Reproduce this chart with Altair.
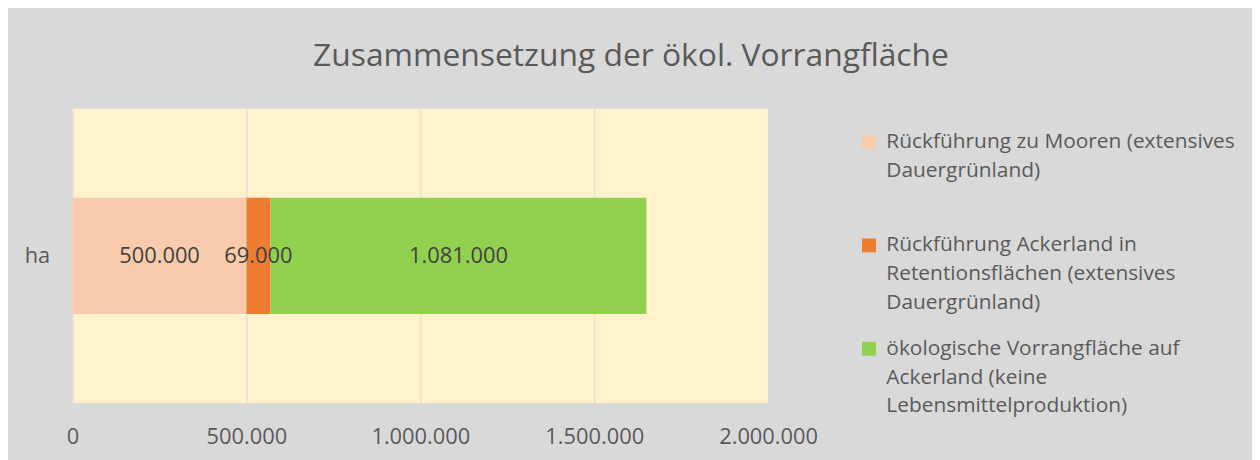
import altair as alt
import pandas as pd

unit = ["ha", "ha", "ha"]
series = [
    "Rückführung zu Mooren (extensives Dauergrünland)",
    "Rückführung Ackerland in Retentionsflächen (extensives Dauergrünland)",
    "ökologische Vorrangfläche auf Ackerland (keine Lebensmittelproduktion)",
]
legend_lines = [
    ["Rückführung zu Mooren (extensives", "Dauergrünland)", ""],
    ["Rückführung Ackerland in", "Retentionsflächen (extensives", "Dauergrünland)"],
    ["ökologische Vorrangfläche auf", "Ackerland (keine", "Lebensmittelproduktion)"],
]
values = [500000, 69000, 1081000]
order = [0, 1, 2]
colors = ["#f8cbad", "#ed7d31", "#92d050"]
x_ticks = [0, 500000, 1000000, 1500000, 2000000]

df = pd.DataFrame({"unit": unit, "series": series, "value": values, "order": order})

FONT = "Open Sans"
TXT = "#595959"
fmt = "replace(format(datum.value, ',d'), regexp(',', 'g'), '.')"


def arr(lines):
    return "[" + ",".join("'" + l + "'" for l in lines) + "]"


label_expr = ""
for s, lines in zip(series[:-1], legend_lines[:-1]):
    label_expr += f"datum.label == '{s}' ? {arr(lines)} : "
label_expr += arr(legend_lines[-1])

x_scale = alt.Scale(domain=[0, 2000000], nice=False, zero=True)

base = alt.Chart(df)

bars = base.mark_bar(size=117).encode(
    x=alt.X(
        "value:Q",
        stack="zero",
        scale=x_scale,
        axis=alt.Axis(
            values=x_ticks,
            labelExpr=fmt,
            title=None,
            domain=False,
            ticks=False,
            grid=True,
            gridColor="#d9d9d9",
            gridWidth=1,
            labelFont=FONT,
            labelFontSize=22,
            labelColor=TXT,
            labelPadding=24,
            labelFlush=False,
        ),
    ),
    y=alt.Y(
        "unit:N",
        axis=alt.Axis(
            title=None,
            domain=False,
            ticks=False,
            labelFont=FONT,
            labelFontSize=22,
            labelColor=TXT,
            labelPadding=23,
        ),
    ),
    color=alt.Color(
        "series:N",
        scale=alt.Scale(domain=series, range=colors),
        legend=alt.Legend(
            title=None,
            orient="none",
            legendX=791,
            legendY=23,
            symbolType="square",
            symbolSize=196,
            symbolStrokeWidth=0,
            labelFont=FONT,
            labelFontSize=21,
            labelColor=TXT,
            labelLimit=600,
            labelOffset=7,
            labelExpr=label_expr,
            rowPadding=24,
            padding=0,
        ),
    ),
    order=alt.Order("order:Q"),
)

texts = (
    base.transform_window(
        cum="sum(value)", sort=[alt.SortField("order")], frame=[None, 0]
    )
    .transform_calculate(
        mid="datum.cum - datum.value / 2",
        label=fmt,
    )
    .mark_text(font=FONT, fontSize=22, color="#404040")
    .encode(
        x=alt.X("mid:Q", scale=x_scale),
        y=alt.Y("unit:N"),
        text="label:N",
    )
)

chart = (
    alt.layer(bars, texts)
    .properties(
        width=700,
        height=296,
        title=alt.Title(
            "Zusammensetzung der ökol. Vorrangfläche",
            font=FONT,
            fontSize=32,
            fontWeight="normal",
            color=TXT,
            anchor="middle",
            dx=212,
            offset=36,
        ),
        autosize=alt.AutoSizeParams(type="none"),
        padding={"left": 65, "top": 100, "right": 487, "bottom": 56},
        background="#d9d9d9",
    )
    .configure(style={"guide-label": {"lineHeight": 29}})
    .configure_view(fill="#fff2cc", stroke=None)
)

chart.save("out.html", embed_options={"renderer": "svg", "actions": False})
